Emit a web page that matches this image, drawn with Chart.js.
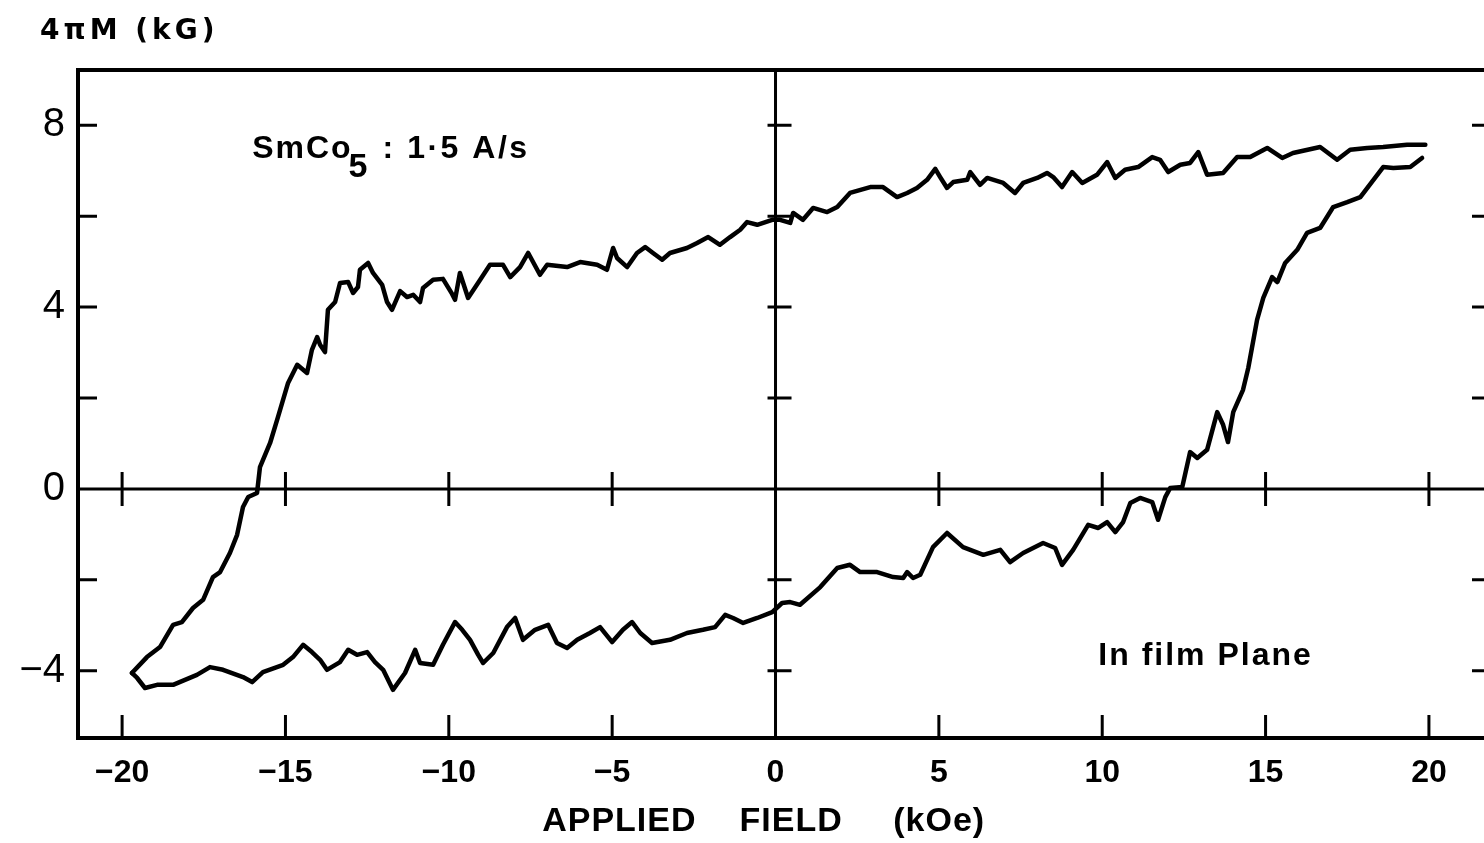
<!DOCTYPE html>
<html lang="en">
<head>
<meta charset="UTF-8">
<title>SmCo5 hysteresis loop</title>
<script src="https://cdn.jsdelivr.net/npm/chart.js"></script>
<style>
  html, body { margin: 0; padding: 0; background: #fff; overflow: hidden; }
  #wrap { width: 1500px; height: 843px; }
</style>
</head>
<body>
<div id="wrap"><canvas id="loop" width="1500" height="843"></canvas></div>
<script>
// applied field (kOe) and 4piM (kG)
// upper branch (coming down from +20 kOe), listed left to right
const upperField = [-19.70,-19.24,-18.84,-18.44,-18.17,-17.83,-17.52,-17.22,-17.00,-16.70,
  -16.48,-16.30,-16.14,-15.87,-15.78,-15.47,-15.23,-14.92,-14.64,-14.34,
  -14.19,-14.03,-13.94,-13.79,-13.70,-13.48,-13.33,-13.08,-12.93,-12.78,
  -12.72,-12.47,-12.32,-12.04,-11.89,-11.74,-11.49,-11.28,-11.09,-10.88,
  -10.79,-10.48,-10.18,-9.90,-9.81,-9.66,-9.41,-9.04,-8.74,-8.34,
  -8.12,-7.82,-7.57,-7.21,-6.99,-6.38,-5.98,-5.46,-5.16,-4.97,
  -4.85,-4.54,-4.24,-3.99,-3.75,-3.47,-3.23,-2.71,-2.40,-2.06,
  -1.70,-1.39,-1.08,-0.87,-0.56,-0.10,0.14,0.45,0.54,0.84,
  1.15,1.58,1.89,2.28,2.90,3.29,3.72,4.03,4.33,4.64,
  4.89,5.04,5.25,5.44,5.87,5.96,6.26,6.48,6.97,7.33,
  7.58,8.01,8.31,8.50,8.77,9.08,9.39,9.84,10.15,10.40,
  10.70,11.10,11.53,11.77,12.02,12.39,12.69,12.94,13.21,13.70,
  14.13,14.53,15.05,15.51,15.84,16.67,17.19,17.59,18.11,18.60,
  19.33,19.89];
const upperM = [-4.05,-3.70,-3.48,-2.99,-2.93,-2.62,-2.44,-1.94,-1.83,-1.41,
  -1.01,-0.40,-0.18,-0.09,0.48,1.01,1.58,2.33,2.73,2.55,
  3.06,3.34,3.17,3.01,3.94,4.11,4.53,4.55,4.31,4.44,
  4.82,4.97,4.75,4.49,4.11,3.94,4.35,4.22,4.27,4.11,
  4.42,4.60,4.62,4.29,4.16,4.75,4.20,4.60,4.93,4.93,
  4.66,4.88,5.19,4.71,4.93,4.88,4.99,4.93,4.82,5.30,
  5.08,4.88,5.19,5.32,5.19,5.04,5.19,5.30,5.41,5.54,
  5.37,5.54,5.70,5.87,5.81,5.92,5.92,5.85,6.07,5.92,
  6.18,6.09,6.20,6.51,6.64,6.64,6.42,6.51,6.62,6.80,
  7.04,6.86,6.62,6.75,6.80,6.97,6.69,6.84,6.73,6.51,
  6.73,6.84,6.95,6.86,6.64,6.97,6.73,6.91,7.19,6.84,
  7.02,7.08,7.30,7.24,6.97,7.13,7.17,7.41,6.91,6.95,
  7.30,7.30,7.50,7.28,7.39,7.52,7.24,7.46,7.50,7.52,
  7.57,7.57];

// lower branch (going up from -20 kOe)
const lowerField = [-19.70,-19.54,-19.30,-18.93,-18.44,-17.71,-17.31,-16.91,-16.30,-16.02,
  -15.69,-15.07,-14.77,-14.46,-14.19,-13.94,-13.73,-13.33,-13.08,-12.81,
  -12.50,-12.26,-12.01,-11.71,-11.34,-11.03,-10.88,-10.48,-10.18,-9.81,
  -9.59,-9.35,-9.10,-8.95,-8.64,-8.22,-7.97,-7.73,-7.36,-6.96,
  -6.69,-6.38,-6.07,-5.68,-5.37,-5.00,-4.67,-4.39,-4.14,-3.78,
  -3.23,-2.71,-2.22,-1.85,-1.54,-1.30,-0.99,-0.56,-0.10,0.20,
  0.45,0.75,1.37,1.89,2.28,2.59,3.11,3.60,3.91,4.03,
  4.21,4.43,4.82,5.25,5.74,6.36,6.88,7.18,7.58,8.19,
  8.56,8.77,9.11,9.57,9.88,10.15,10.40,10.64,10.86,11.16,
  11.53,11.71,11.93,12.08,12.45,12.69,12.91,13.21,13.52,13.70,
  13.85,14.01,14.31,14.47,14.74,14.93,15.20,15.36,15.60,15.97,
  16.27,16.67,17.07,17.50,17.90,18.60,18.91,19.43,19.79];
const lowerM = [-4.05,-4.16,-4.38,-4.31,-4.31,-4.09,-3.92,-3.98,-4.14,-4.25,
  -4.03,-3.87,-3.70,-3.43,-3.59,-3.76,-3.98,-3.81,-3.54,-3.65,
  -3.59,-3.81,-3.98,-4.42,-4.05,-3.54,-3.83,-3.87,-3.43,-2.93,
  -3.10,-3.32,-3.65,-3.83,-3.61,-3.04,-2.84,-3.32,-3.10,-2.99,
  -3.39,-3.50,-3.32,-3.17,-3.04,-3.37,-3.10,-2.93,-3.17,-3.39,
  -3.32,-3.17,-3.10,-3.04,-2.77,-2.84,-2.95,-2.84,-2.71,-2.51,
  -2.49,-2.55,-2.16,-1.74,-1.67,-1.83,-1.83,-1.94,-1.96,-1.83,
  -1.96,-1.89,-1.28,-0.97,-1.28,-1.45,-1.34,-1.61,-1.41,-1.19,
  -1.30,-1.67,-1.34,-0.79,-0.86,-0.73,-0.95,-0.73,-0.31,-0.20,
  -0.29,-0.68,-0.18,0.02,0.04,0.81,0.68,0.86,1.69,1.41,
  1.03,1.69,2.18,2.66,3.72,4.20,4.66,4.55,4.97,5.26,
  5.63,5.74,6.20,6.31,6.42,7.08,7.06,7.08,7.28];

const fieldTicks = [-20, -15, -10, -5, 0, 5, 10, 15, 20];
const magTicks = [-4, -2, 0, 2, 4, 6, 8];
const magLabels = [-4, 0, 4, 8];

function pairs(xs, ys) {
  return xs.map((v, i) => ({ x: v, y: ys[i] }));
}
function minus(v) {
  return v < 0 ? '\u2212' + (-v) : String(v);
}

// box, the two zero lines, tick marks and the lettering
const frame = {
  id: 'frame',
  beforeDatasetsDraw(chart) {
    const { ctx, chartArea: a, scales: { x, y } } = chart;
    const x0 = x.getPixelForValue(0), y0 = y.getPixelForValue(0);
    ctx.save();
    ctx.strokeStyle = '#000';
    ctx.lineWidth = 4;
    ctx.strokeRect(a.left, a.top, a.right - a.left, a.bottom - a.top);
    ctx.lineWidth = 3;
    ctx.beginPath();
    ctx.moveTo(x0, a.top); ctx.lineTo(x0, a.bottom);
    ctx.moveTo(a.left, y0); ctx.lineTo(a.right, y0);
    fieldTicks.forEach(v => {
      if (v === 0) return;
      const px = x.getPixelForValue(v);
      ctx.moveTo(px, y0 - 17); ctx.lineTo(px, y0 + 17);
      ctx.moveTo(px, a.bottom); ctx.lineTo(px, a.bottom - 23);
    });
    magTicks.forEach(v => {
      if (v === 0) return;
      const py = y.getPixelForValue(v);
      ctx.moveTo(a.left, py); ctx.lineTo(a.left + 19, py);
      ctx.moveTo(a.right, py); ctx.lineTo(a.right - 19, py);
      ctx.moveTo(x0 - 8, py); ctx.lineTo(x0 + 16, py);
    });
    ctx.stroke();
    ctx.restore();
  },
  afterDraw(chart) {
    const { ctx, chartArea: a, scales: { x, y } } = chart;
    ctx.save();
    ctx.fillStyle = '#000';
    ctx.textBaseline = 'alphabetic';
    ctx.textAlign = 'left';

    ctx.font = 'bold 28px "DejaVu Sans"';
    ctx.letterSpacing = '4px';
    ctx.fillText('4\u03c0M (kG)', 40, 39);

    // sample label
    const px = x.getPixelForValue(-16.02), py = y.getPixelForValue(7.28);
    ctx.font = 'bold 32px "Liberation Sans"';
    ctx.letterSpacing = '2px';
    ctx.fillText('SmCo', px, py);
    const w = ctx.measureText('SmCo').width;
    ctx.font = 'bold 34px "Liberation Sans"';
    ctx.fillText('5', px + w - 4, py + 19);
    ctx.font = 'bold 32px "Liberation Sans"';
    ctx.letterSpacing = '2.5px';
    ctx.fillText(': 1\u00b75 A/s', px + w + 30, py);

    ctx.font = 'bold 32px "Liberation Sans"';
    ctx.letterSpacing = '2px';
    ctx.fillText('In film Plane', x.getPixelForValue(9.88), y.getPixelForValue(-3.87));

    // x axis title, word by word
    ctx.font = 'bold 34px "Liberation Sans"';
    ctx.letterSpacing = '1px';
    ctx.textAlign = 'center';
    const ty = a.bottom + 93;
    ctx.fillText('APPLIED', x.getPixelForValue(-4.78), ty);
    ctx.fillText('FIELD', x.getPixelForValue(0.48), ty);
    ctx.fillText('(kOe)', x.getPixelForValue(5.01), ty);
    ctx.restore();
  }
};

new Chart(document.getElementById('loop'), {
  type: 'scatter',
  data: {
    datasets: [
      { label: 'decreasing field', data: pairs(upperField, upperM) },
      { label: 'increasing field', data: pairs(lowerField, lowerM) }
    ].map(d => Object.assign(d, {
      showLine: true,
      borderColor: '#000',
      borderWidth: 4.5,
      pointRadius: 0,
      tension: 0,
      borderJoinStyle: 'round',
      borderCapStyle: 'round'
    }))
  },
  options: {
    responsive: false,
    animation: false,
    layout: { padding: { top: 70, right: 9, left: 0, bottom: 0 } },
    plugins: { legend: { display: false }, tooltip: { enabled: false } },
    scales: {
      x: {
        type: 'linear',
        min: -21.35,
        max: 21.9,
        afterBuildTicks: s => { s.ticks = fieldTicks.map(v => ({ value: v })); },
        afterFit: s => { s.height = 105; },
        grid: { display: false, drawTicks: false },
        border: { display: false },
        ticks: {
          color: '#000',
          padding: 16,
          maxRotation: 0,
          autoSkip: false,
          font: { family: 'Liberation Sans', size: 32, weight: 'bold' },
          callback: v => minus(v)
        }
      },
      y: {
        type: 'linear',
        min: -5.48,
        max: 9.215,
        afterBuildTicks: s => { s.ticks = magTicks.map(v => ({ value: v })); },
        afterFit: s => { s.width = 78; },
        grid: { display: false, drawTicks: false },
        border: { display: false },
        ticks: {
          color: '#000',
          padding: 13,
          autoSkip: false,
          font: { family: 'Liberation Sans', size: 40 },
          callback: v => magLabels.includes(v) ? minus(v) : ''
        }
      }
    }
  },
  plugins: [frame]
});
</script>
</body>
</html>
